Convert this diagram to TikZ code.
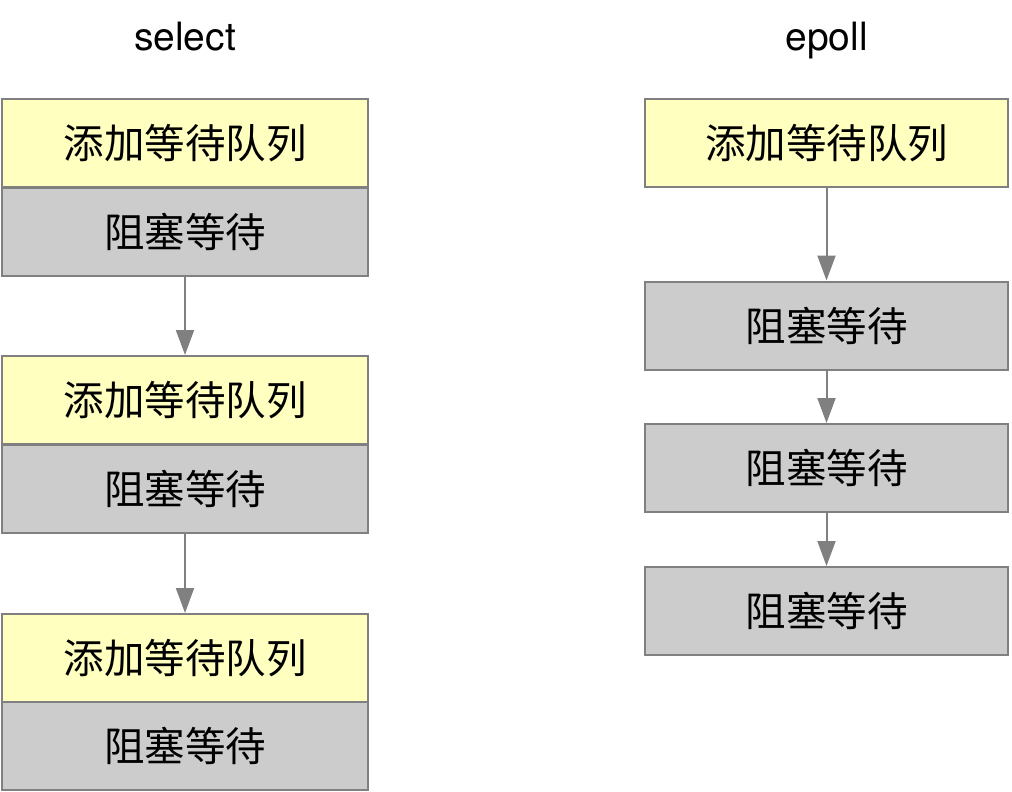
\documentclass[tikz,border=0pt]{standalone}
\usepackage{fontspec}
\setmainfont{TeX Gyre Heros}
\newfontfamily\cjk{Noto Sans CJK SC}
\usetikzlibrary{arrows.meta}
\definecolor{addyellow}{HTML}{FFFFC0}
\definecolor{waitgray}{HTML}{CCCCCC}
\definecolor{edgegray}{HTML}{808080}
\begin{document}
\begin{tikzpicture}[x=1pt,y=-1pt,>={Triangle[width=18pt,length=25pt]},
    add/.style={draw=edgegray,line width=2pt,fill=addyellow,minimum height=88pt,inner sep=0pt,font=\cjk\fontsize{40.5}{40.5}\selectfont},
    wait/.style={add,fill=waitgray},
    flow/.style={->,draw=edgegray,line width=2pt},
    title/.style={anchor=base,font=\fontsize{39}{39}\selectfont}]
        \useasboundingbox(0,0)rectangle(1012,792);
        \node[title] (sel) at(185,51) {select};
        \node[title] (ep) at(826.5,51) {epoll};
        % select
        \node[add,minimum width=366pt] (sa1) at(185,143) {添加等待队列};
        \node[wait,minimum width=366pt] (sw1) at(185,231.5) {阻塞等待};
        \node[add,minimum width=366pt] (sa2) at(185,400) {添加等待队列};
        \node[wait,minimum width=366pt] (sw2) at(185,488.5) {阻塞等待};
        \node[add,minimum width=366pt] (sa3) at(185,658) {添加等待队列};
        \node[wait,minimum width=366pt] (sw3) at(185,746) {阻塞等待};
        \draw[flow](sw1)--(sa2);
        \draw[flow](sw2)--(sa3);
        % epoll
        \node[add,minimum width=363pt] (ea) at(826.5,143) {添加等待队列};
        \node[wait,minimum width=363pt] (ew1) at(826.5,325.5) {阻塞等待};
        \node[wait,minimum width=363pt] (ew2) at(826.5,468) {阻塞等待};
        \node[wait,minimum width=363pt] (ew3) at(826.5,611) {阻塞等待};
        \draw[flow](ea)--(ew1);
        \draw[flow](ew1)--(ew2);
        \draw[flow](ew2)--(ew3);
    \end{tikzpicture}
\end{document}
